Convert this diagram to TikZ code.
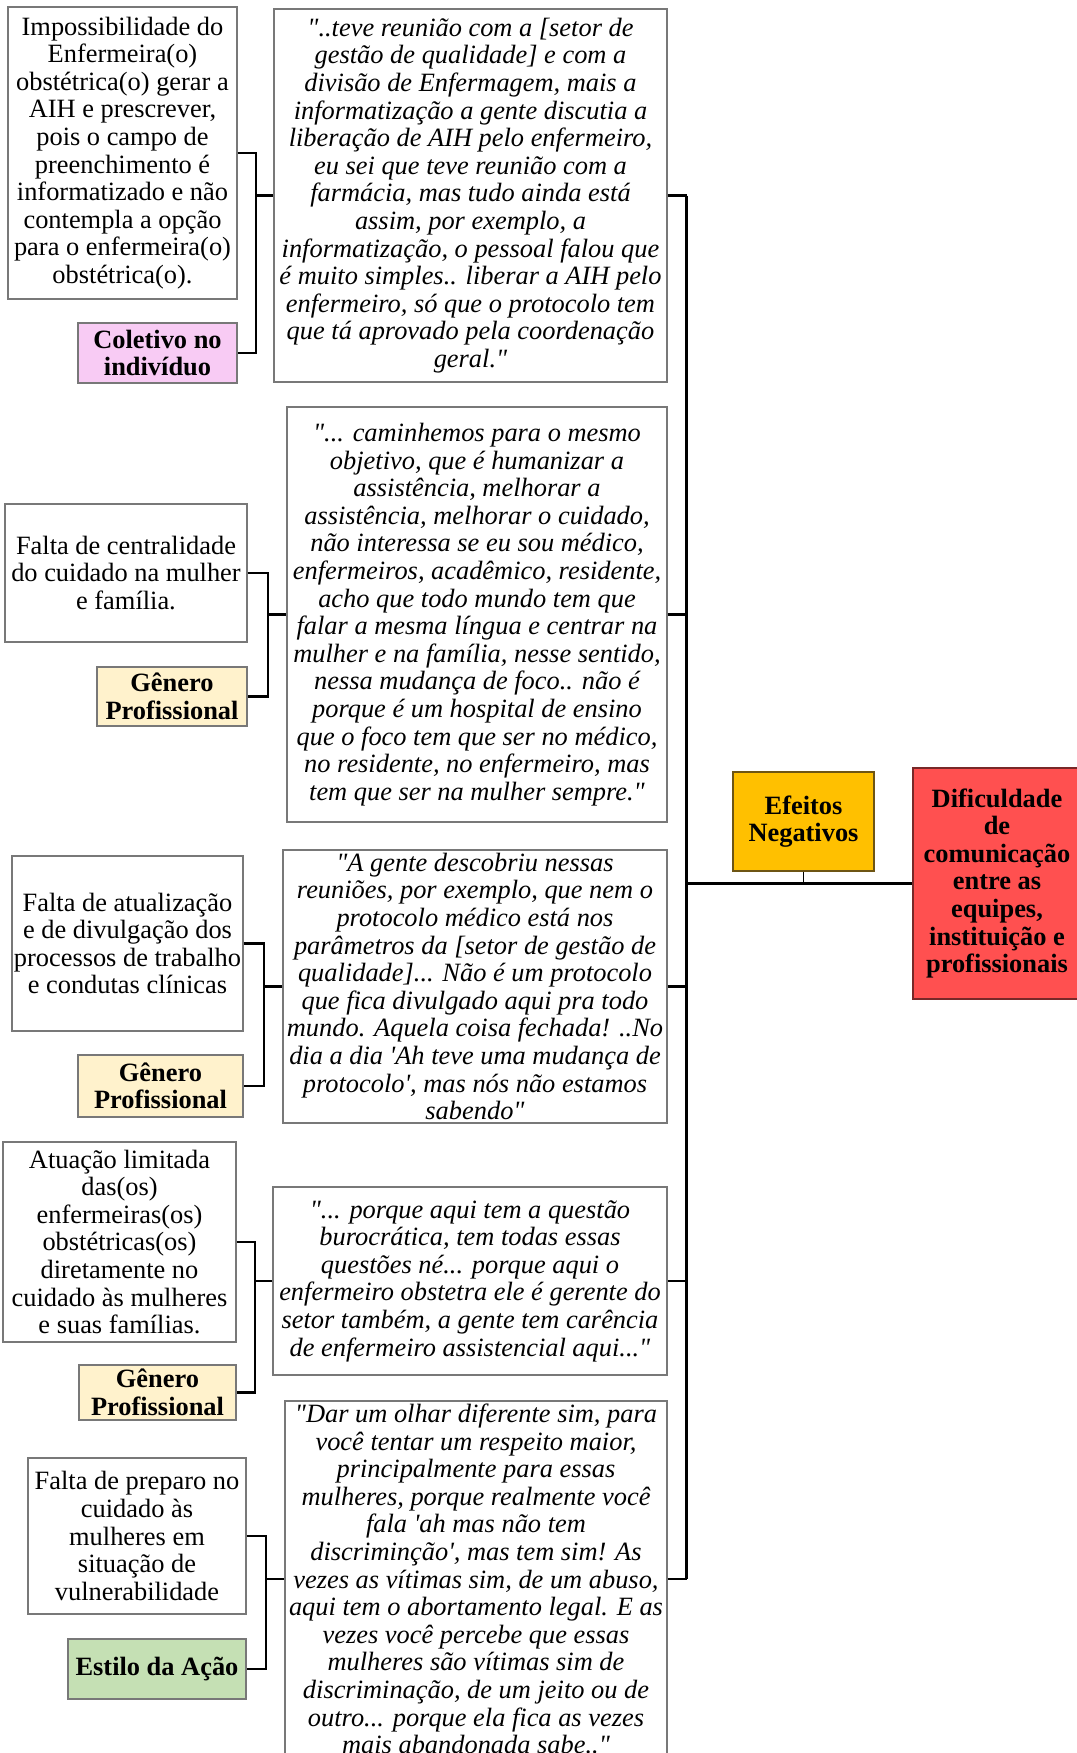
\documentclass[tikz,border=0pt]{standalone}
\usepackage{fontspec}
\setmainfont{Liberation Serif}[Ligatures=TeXOff]
\definecolor{boxline}{RGB}{120,120,120}
\definecolor{pinkfill}{RGB}{248,203,244}
\definecolor{creamfill}{RGB}{255,242,204}
\definecolor{greenfill}{RGB}{197,224,180}
\definecolor{amberfill}{RGB}{255,192,0}
\definecolor{amberline}{RGB}{110,85,20}
\definecolor{redfill}{RGB}{255,80,80}
\definecolor{redline}{RGB}{120,40,40}
\begin{document}
\begin{tikzpicture}[x=1pt,y=-1pt,
  every node/.style={inner sep=0pt, align=center,
    font=\fontsize{26.4}{27.6}\selectfont},
  cbox/.style={draw=boxline, line width=1.1pt, fill=white, rectangle},
  quotebox/.style={cbox, font=\fontsize{26.4}{27.6}\selectfont\itshape},
  tagbox/.style={cbox, font=\fontsize{26.4}{27.6}\selectfont\bfseries},
  link/.style={line width=2.6pt, line join=miter},
  thinlink/.style={line width=1.6pt}]
\useasboundingbox (0,0) rectangle (1076,1753);
\fill[white] (0,0) rectangle (1076,1753);

% ---- first group
\node[cbox, minimum width=229pt, minimum height=292pt] (b1) at (122.5,153)
  {Impossibilidade do\\Enfermeira(o)\\obstétrica(o) gerar a\\AIH e prescrever,\\pois o campo de\\preenchimento é\\informatizado e não\\contempla a opção\\para o enfermeira(o)\\obstétrica(o).};
\node[tagbox, fill=pinkfill, minimum width=159pt, minimum height=60pt] (c1) at (157.5,353)
  {Coletivo no\\indivíduo};
\node[quotebox, minimum width=393pt, minimum height=373pt] (q1) at (470.5,195.5)
  {"..teve reunião com a [setor de\\gestão de qualidade] e com a\\divisão de Enfermagem, mais a\\informatização a gente discutia a\\liberação de AIH pelo enfermeiro,\\eu sei que teve reunião com a\\farmácia, mas tudo ainda está\\assim, por exemplo, a\\informatização, o pessoal falou que\\é muito simples.. liberar a AIH pelo\\enfermeiro, só que o protocolo tem\\que tá aprovado pela coordenação\\geral."};

% ---- second group
\node[cbox, minimum width=242pt, minimum height=138pt] (b2) at (126,573)
  {Falta de centralidade\\do cuidado na mulher\\e família.};
\node[tagbox, fill=creamfill, minimum width=150pt, minimum height=59pt] (g2) at (172,696.5)
  {Gênero\\Profissional};
\node[quotebox, minimum width=380pt, minimum height=415pt] (q2) at (477,614.5)
  {"... caminhemos para o mesmo\\objetivo, que é humanizar a\\assistência, melhorar a\\assistência, melhorar o cuidado,\\não interessa se eu sou médico,\\enfermeiros, acadêmico, residente,\\acho que todo mundo tem que\\falar a mesma língua e centrar na\\mulher e na família, nesse sentido,\\nessa mudança de foco.. não é\\porque é um hospital de ensino\\que o foco tem que ser no médico,\\no residente, no enfermeiro, mas\\tem que ser na mulher sempre."};

% ---- third group
\node[cbox, minimum width=231pt, minimum height=175pt] (b3) at (127.5,943.5)
  {Falta de atualização\\e de divulgação dos\\processos de trabalho\\e condutas clínicas};
\node[tagbox, fill=creamfill, minimum width=165pt, minimum height=62pt] (g3) at (160.5,1086)
  {Gênero\\Profissional};
\node[quotebox, minimum width=384pt, minimum height=273pt] (q3) at (475,986.5)
  {"A gente descobriu nessas\\reuniões, por exemplo, que nem o\\protocolo médico está nos\\parâmetros da [setor de gestão de\\qualidade]... Não é um protocolo\\que fica divulgado aqui pra todo\\mundo. Aquela coisa fechada! ..No\\dia a dia 'Ah teve uma mudança de\\protocolo', mas nós não estamos\\sabendo"};

% ---- fourth group
\node[cbox, minimum width=233pt, minimum height=200pt] (b4) at (119.5,1242)
  {Atuação limitada\\das(os)\\enfermeiras(os)\\obstétricas(os)\\diretamente no\\cuidado às mulheres\\e suas famílias.};
\node[tagbox, fill=creamfill, minimum width=157pt, minimum height=55pt] (g4) at (157.5,1392.5)
  {Gênero\\Profissional};
\node[quotebox, minimum width=394pt, minimum height=188pt] (q4) at (470,1281)
  {"... porque aqui tem a questão\\burocrática, tem todas essas\\questões né... porque aqui o\\enfermeiro obstetra ele é gerente do\\setor também, a gente tem carência\\de enfermeiro assistencial aqui..."};

% ---- fifth group
\node[cbox, minimum width=218pt, minimum height=156pt] (b5) at (137,1536)
  {Falta de preparo no\\cuidado às\\mulheres em\\situação de\\vulnerabilidade};
\node[tagbox, fill=greenfill, minimum width=178pt, minimum height=60pt] (e5) at (157,1669)
  {Estilo da Ação};
\node[quotebox, minimum width=382pt, minimum height=356pt] (q5) at (476,1579)
  {"Dar um olhar diferente sim, para\\você tentar um respeito maior,\\principalmente para essas\\mulheres, porque realmente você\\fala 'ah mas não tem\\discriminção', mas tem sim! As\\vezes as vítimas sim, de um abuso,\\aqui tem o abortamento legal. E as\\vezes você percebe que essas\\mulheres são vítimas sim de\\discriminação, de um jeito ou de\\outro... porque ela fica as vezes\\mais abandonada sabe.."};

% ---- right side
\node[tagbox, fill=amberfill, draw=amberline, line width=1.4pt,
  minimum width=141pt, minimum height=99pt] (ef) at (803.5,821.5)
  {Efeitos\\Negativos};
\node[tagbox, fill=redfill, draw=redline, line width=1.4pt,
  minimum width=168pt, minimum height=231pt] (red) at (997,883.5)
  {Dificuldade\\de\\comunicação\\entre as\\equipes,\\instituição e\\profissionais};

% ---- bracket columns and trunk
\coordinate (k1) at (256,0);
\coordinate (k2) at (268,0);
\coordinate (k3) at (264,0);
\coordinate (k4) at (255,0);
\coordinate (k5) at (266,0);
\coordinate (trunk) at (686.5,0);

\foreach \b/\t/\k/\q in {b1/c1/k1/q1, b2/g2/k2/q2, b3/g3/k3/q3, b4/g4/k4/q4, b5/e5/k5/q5}{
  \draw[link] (\b.east) -- (\b.east -| \k) -- (\t.east -| \k) -- (\t.east);
  \draw[link] (\k |- \q.west) -- (\q.west);
  \draw[link] (\q.east) -- (\q.east -| trunk);
}
\draw[link] (trunk |- q1.east) -- (trunk |- q5.east);
\draw[link] (trunk |- red.west) -- (red.west);
\draw[thinlink] (ef.south) -- (ef.south |- red.west);
\end{tikzpicture}
\end{document}
